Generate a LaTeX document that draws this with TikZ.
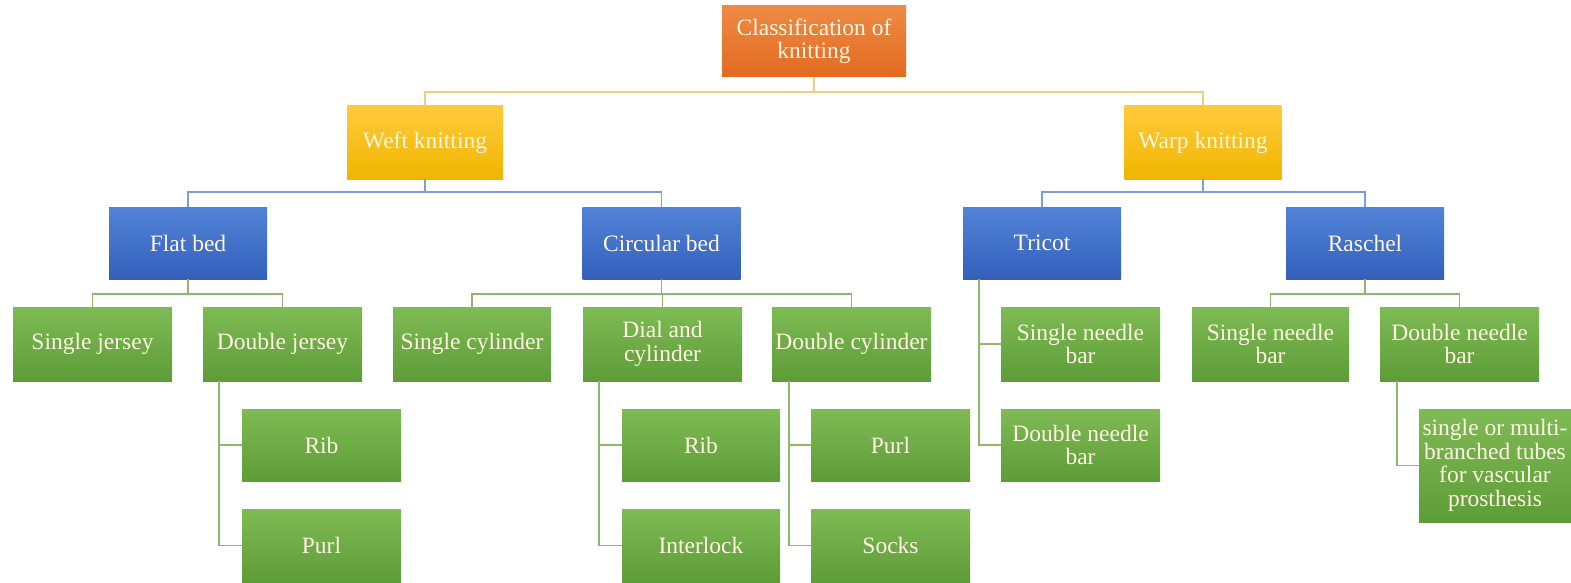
\documentclass[tikz,border=0pt]{standalone}
\usepackage{fontspec}
\setmainfont{Liberation Serif}
\definecolor{cream}{HTML}{FFF6E4}
\definecolor{orT}{HTML}{EF8A45}
\definecolor{orB}{HTML}{E26B1F}
\definecolor{gdT}{HTML}{FFCB3C}
\definecolor{gdB}{HTML}{F0B500}
\definecolor{blT}{HTML}{5283D8}
\definecolor{blB}{HTML}{3360BA}
\definecolor{grT}{HTML}{7EBB55}
\definecolor{grB}{HTML}{5E9C37}
\definecolor{lnY}{HTML}{F0CE7A}
\definecolor{lnB}{HTML}{7F9DD4}
\definecolor{lnG}{HTML}{8CBA6A}
\tikzset{
  box/.style={minimum width=158pt, minimum height=73pt, inner sep=0pt, align=center,
     text=cream, font=\fontsize{23.5}{23.5}\selectfont},
  orbox/.style={box, top color=orT, bottom color=orB},
  gdbox/.style={box, top color=gdT, bottom color=gdB},
  blbox/.style={box, top color=blT, bottom color=blB},
  grbox/.style={box, top color=grT, bottom color=grB},
  yl/.style={draw=lnY, line width=1.8pt},
  bl/.style={draw=lnB, line width=1.8pt},
  gl/.style={draw=lnG, line width=1.8pt},
}
\begin{document}
\begin{tikzpicture}[x=1pt,y=-1pt]
\useasboundingbox (0,0) rectangle (1571,583);
\node[orbox, minimum width=184pt, minimum height=71pt] (top) at (814,41.5) {Classification of\\knitting};
\node[gdbox, minimum width=156pt] (weft) at (425,142.5) {Weft knitting};
\node[gdbox, minimum width=157pt] (warp) at (1203,142.5) {Warp knitting};
\node[blbox, minimum height=72pt] (flat) at (188,243) {Flat bed};
\node[blbox, minimum height=72pt] (circ) at (661.5,243) {Circular bed};
\node[blbox, minimum height=72pt] (tricot) at (1042,243) {Tricot};
\node[blbox, minimum height=72pt] (raschel) at (1365,243) {Raschel};
\node[grbox, minimum width=159pt, minimum height=74pt] (sj) at (92.5,344) {Single jersey};
\node[grbox, minimum width=159pt, minimum height=74pt] (dj) at (282.5,344) {Double jersey};
\node[grbox, minimum height=74pt] (sc) at (472,344) {Single cylinder};
\node[grbox, minimum width=159pt, minimum height=74pt] (dial) at (662.5,344) {Dial and\\cylinder};
\node[grbox, minimum width=159pt, minimum height=74pt] (dcyl) at (851.5,344) {Double cylinder};
\node[grbox, minimum width=159pt, minimum height=74pt] (tsn) at (1080.5,344) {Single needle\\bar};
\node[grbox, minimum width=157pt, minimum height=74pt] (rsn) at (1270.5,344) {Single needle\\bar};
\node[grbox, minimum width=159pt, minimum height=74pt] (rdn) at (1459.5,344) {Double needle\\bar};
\node[grbox, minimum width=159pt, minimum height=72pt] (ribA) at (321.5,445) {Rib};
\node[grbox, minimum width=159pt, minimum height=73pt] (purlA) at (321.5,545.5) {Purl};
\node[grbox, minimum width=158pt, minimum height=72pt] (ribB) at (701,445) {Rib};
\node[grbox, minimum width=158pt, minimum height=73pt] (inter) at (701,545.5) {Interlock};
\node[grbox, minimum width=159pt, minimum height=72pt] (purlB) at (890.5,445) {Purl};
\node[grbox, minimum width=159pt, minimum height=73pt] (socks) at (890.5,545.5) {Socks};
\node[grbox, minimum width=159pt, minimum height=72pt] (tdn) at (1080.5,445) {Double needle\\bar};
\node[grbox, minimum width=152pt, minimum height=113pt] (tubes) at (1495,465.5) {single or multi-\\branched tubes\\for vascular\\prosthesis};
% connectors
\draw[yl] (top.south) -- (top.south |- 0,92) -| (weft.north);
\draw[yl] (top.south |- 0,92) -| (warp.north);
\draw[bl] (weft.south) -- (weft.south |- 0,192) -| (flat.north);
\draw[bl] (weft.south |- 0,192) -| (circ.north);
\draw[bl] (warp.south) -- (warp.south |- 0,192) -| (tricot.north);
\draw[bl] (warp.south |- 0,192) -| (raschel.north);
\draw[gl] (flat.south) -- (flat.south |- 0,294) -| (sj.north);
\draw[gl] (flat.south |- 0,294) -| (dj.north);
\draw[gl] (circ.south) -- (circ.south |- 0,294) -| (sc.north);
\draw[gl] (circ.south |- 0,294) -| (dial.north);
\draw[gl] (circ.south |- 0,294) -| (dcyl.north);
\draw[gl] (raschel.south) -- (raschel.south |- 0,294) -| (rsn.north);
\draw[gl] (raschel.south |- 0,294) -| (rdn.north);
\draw[gl] (tricot.south -| 979,0) |- (tsn.west);
\draw[gl] (tricot.south -| 979,0) |- (tdn.west);
\draw[gl] (dj.south -| 219,0) |- (ribA.west);
\draw[gl] (dj.south -| 219,0) |- (purlA.west);
\draw[gl] (dial.south -| 599,0) |- (ribB.west);
\draw[gl] (dial.south -| 599,0) |- (inter.west);
\draw[gl] (dcyl.south -| 789,0) |- (purlB.west);
\draw[gl] (dcyl.south -| 789,0) |- (socks.west);
\draw[gl] (rdn.south -| 1397,0) |- (tubes.west);
\end{tikzpicture}
\end{document}
